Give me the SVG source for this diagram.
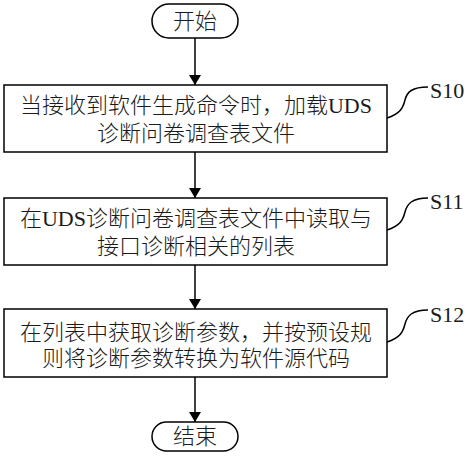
<svg xmlns="http://www.w3.org/2000/svg" width="474" height="461" viewBox="0 0 474 461">
<style>
.box{fill:#fff;stroke:#000;stroke-width:1.5}
.t{font-family:"Liberation Serif","Noto Sans CJK SC",serif;font-size:22px;font-weight:300;fill:#1a1a1a;text-anchor:middle}
.lbl{font-family:"Liberation Serif","Noto Sans CJK SC",serif;font-size:22px;fill:#1a1a1a}
.c{fill:none;stroke:#000;stroke-width:1.5}
</style>
<defs>
<marker id="ah" markerWidth="10" markerHeight="12" refX="10" refY="6" orient="auto" markerUnits="userSpaceOnUse" viewBox="0 0 10 12">
<path d="M0,0 L10,6 L0,12 Z" fill="#000"/>
</marker>
</defs>
<rect width="474" height="461" fill="#fff"/>
<g id="connectors">
<line class="c" x1="195" y1="38" x2="195" y2="85" marker-end="url(#ah)"/>
<line class="c" x1="195" y1="152" x2="195" y2="198" marker-end="url(#ah)"/>
<line class="c" x1="195" y1="265" x2="195" y2="309" marker-end="url(#ah)"/>
<line class="c" x1="195" y1="377" x2="195" y2="422" marker-end="url(#ah)"/>
<path class="c" d="M387,118 C400,114 403,108 405,100 C407,92 412,87 428,87"/>
<path class="c" d="M387,230 C400,226 403,220 405,212 C407,204 412,198 428,198"/>
<path class="c" d="M387,342 C400,338 403,332 405,324 C407,316 412,310 428,310"/>
</g>
<g id="start">
<rect class="box" x="152" y="4" width="86" height="34" rx="17"/>
<text class="t" x="195" y="29">开始</text>
</g>
<g id="s10">
<rect class="box" x="4" y="85" width="383" height="67"/>
<text class="t" x="196" y="113">当接收到软件生成命令时，加载UDS</text>
<text class="t" x="196" y="141">诊断问卷调查表文件</text>
<text class="lbl" x="430" y="98">S10</text>
</g>
<g id="s11">
<rect class="box" x="4" y="198" width="383" height="67"/>
<text class="t" x="196" y="226">在UDS诊断问卷调查表文件中读取与</text>
<text class="t" x="196" y="254">接口诊断相关的列表</text>
<text class="lbl" x="430" y="209">S11</text>
</g>
<g id="s12">
<rect class="box" x="4" y="309" width="383" height="68"/>
<text class="t" x="196" y="340">在列表中获取诊断参数，并按预设规</text>
<text class="t" x="196" y="366">则将诊断参数转换为软件源代码</text>
<text class="lbl" x="430" y="322">S12</text>
</g>
<g id="end">
<rect class="box" x="152" y="422" width="86" height="29" rx="14.5"/>
<text class="t" x="195" y="444">结束</text>
</g>
</svg>
